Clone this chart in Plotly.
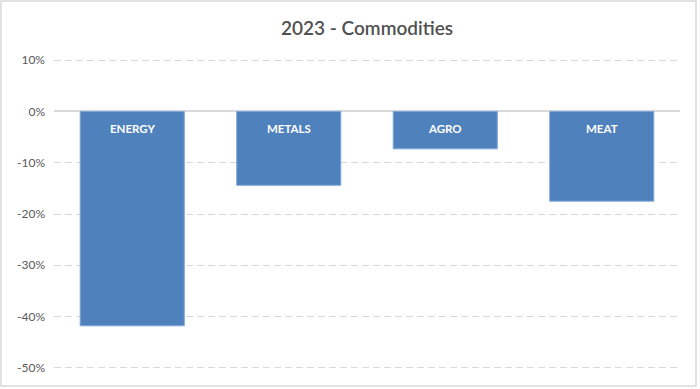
import plotly.graph_objects as go

categories = ["ENERGY", "METALS", "AGRO", "MEAT"]
values = [-0.418, -0.144, -0.073, -0.175]
tick_vals = [0.1, 0, -0.1, -0.2, -0.3, -0.4, -0.5]
tick_text = ["10%", "0%", "-10%", "-20%", "-30%", "-40%", "-50%"]

W, H = 700, 389
px_per_unit = 513.3  # pixels per 1.0 (100%)
pad = 0.01
ml, mr = 54, 20
mt = round(60 - pad * px_per_unit)
mb = round(21 - pad * px_per_unit)

fig = go.Figure()
fig.add_trace(go.Bar(
    x=categories, y=values,
    marker=dict(color="#4f81bd", line=dict(color="#7fa6d6", width=1)),
    hoverinfo="skip",
))

for c in categories:
    fig.add_annotation(x=c, y=0, text="<b>%s</b>" % c, showarrow=False,
                       yanchor="top", yshift=-9,
                       font=dict(family="Lato, Open Sans, sans-serif", size=11.5, color="white"))

pw = W - ml - mr
ph = H - mt - mb
fig.add_shape(type="rect", xref="paper", yref="paper",
              x0=(1 - ml) / pw, x1=(696 - ml) / pw,
              y0=(H - mb - 386) / ph, y1=(H - mb - 1) / ph,
              line=dict(color="#d9d9d9", width=1.5), layer="below")

fig.update_layout(
    width=W, height=H,
    margin=dict(l=ml, r=mr, t=mt, b=mb),
    paper_bgcolor="white", plot_bgcolor="white",
    showlegend=False,
    bargap=0.335,
    title=dict(text="2023 - Commodities", x=0.5, xref="paper", y=1 - 28 / H, yanchor="middle",
               font=dict(family="Lato, Open Sans, sans-serif", size=19, color="#505050", weight=600)),
    xaxis=dict(showticklabels=False, showgrid=False, zeroline=False, showline=False, ticks=""),
    yaxis=dict(range=[-0.5 - pad, 0.1 + pad], tickvals=tick_vals, ticktext=tick_text,
               showgrid=True, gridcolor="#d9d9d9", griddash="7px,4px", gridwidth=1,
               zeroline=True, zerolinecolor="#d9d9d9", zerolinewidth=1.5,
               showline=False, ticks="", ticklabelstandoff=8,
               tickfont=dict(family="Lato, Open Sans, sans-serif", size=12, color="#595959")),
)

fig.write_html("out.html", config={"displayModeBar": False},
               post_script="document.body.style.margin='0px';document.body.style.padding='0px';")
